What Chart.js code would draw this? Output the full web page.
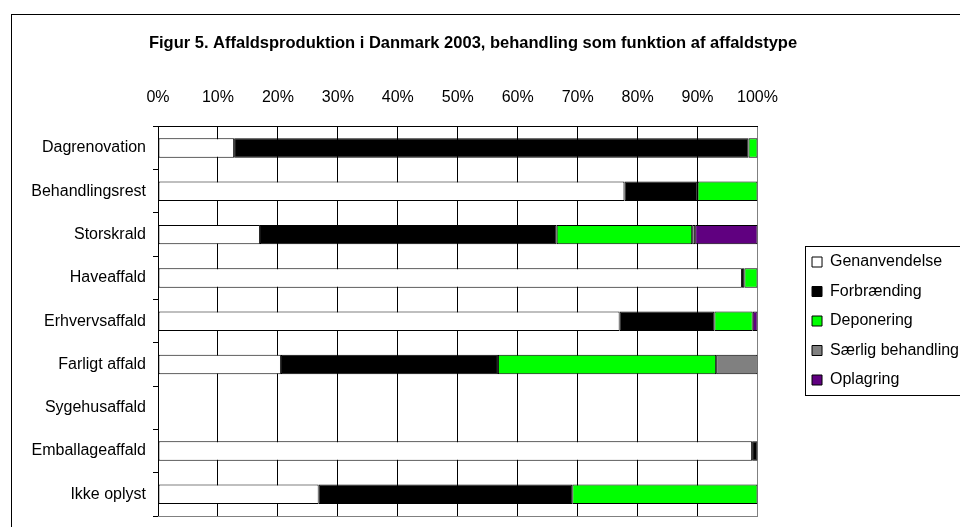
<!DOCTYPE html>
<html>
<head>
<meta charset="utf-8">
<script src="https://cdn.jsdelivr.net/npm/chart.js@4"></script>
<style>
  html, body { margin: 0; padding: 0; background: #fff; overflow: hidden; }
  #wrap { position: absolute; left: 0; top: 0; width: 1000px; height: 545px; }
</style>
</head>
<body>
<div id="wrap"><canvas id="chart" width="1000" height="545"></canvas></div>
<script>
// data (percent of each waste type)
const categories = ["Dagrenovation", "Behandlingsrest", "Storskrald", "Haveaffald", "Erhvervsaffald",
    "Farligt affald", "Sygehusaffald", "Emballageaffald", "Ikke oplyst"];
const genanvendelse = [12.7, 77.8, 17.0, 97.4, 77.0, 20.5, 0, 99.1, 26.8];
const forbraending  = [85.8, 12.2, 49.5, 0.4, 15.8, 36.2, 0, 0.9, 42.3];
const deponering    = [1.5, 10.0, 22.6, 2.2, 6.4, 36.4, 0, 0, 30.9];
const saerlig       = [0, 0, 0.5, 0, 0, 6.9, 0, 0, 0];
const oplagring     = [0, 0, 10.4, 0, 0.8, 0, 0, 0, 0];
const tickValues    = [0, 10, 20, 30, 40, 50, 60, 70, 80, 90, 100];

const FONT = "'Liberation Sans', Arial, sans-serif";
Chart.defaults.font.family = FONT;
Chart.defaults.color = "#000";

function series(label, data, color) {
    return {
        label: label,
        data: data,
        backgroundColor: color,
        borderColor: "#000",
        borderWidth: 1,
        borderSkipped: false,
        barPercentage: 0.45,
        categoryPercentage: 1
    };
}

// legend sits a bit away from the plot, with a frame round it
const legendGap = {
    id: "legendGap",
    beforeInit(chart) {
        const fit = chart.legend.fit;
        chart.legend.fit = function () {
            fit.call(this);
            this.width += 18;
        };
    },
    afterLayout(chart) {
        const lg = chart.legend;
        lg.left += 41;
        lg.right += 41;
        lg.top += 63;
        lg.bottom += 63;
    }
};

const frames = {
    id: "frames",
    beforeDatasetsDraw(chart) {
        const ctx = chart.ctx, a = chart.chartArea;
        ctx.save();
        ctx.strokeStyle = "#808080";
        ctx.lineWidth = 1;
        ctx.beginPath();
        ctx.moveTo(a.left, Math.round(a.bottom) + 0.5);
        ctx.lineTo(a.right + 0.5, Math.round(a.bottom) + 0.5);
        ctx.stroke();
        ctx.restore();
    },
    afterDraw(chart) {
        const ctx = chart.ctx;
        ctx.save();
        ctx.strokeStyle = "#000";
        ctx.lineWidth = 1;
        // outer chart border
        ctx.strokeRect(11.5, 14.5, chart.width, chart.height);
        // legend frame
        const hb = chart.legend.legendHitBoxes;
        if (hb.length) {
            const first = hb[0], last = hb[hb.length - 1];
            const x = Math.round(first.left - 7) + 0.5;
            const y = Math.round(first.top - 8.5) + 0.5;
            const b = Math.round(last.top + last.height + 7) + 0.5;
            ctx.strokeRect(x, y, chart.width, b - y);
        }
        ctx.restore();
    }
};

new Chart(document.getElementById("chart"), {
    type: "bar",
    data: {
        labels: categories,
        datasets: [
            series("Genanvendelse", genanvendelse, "#ffffff"),
            series("Forbrænding", forbraending, "#000000"),
            series("Deponering", deponering, "#00ff00"),
            series("Særlig behandling", saerlig, "#808080"),
            series("Oplagring", oplagring, "#600080")
        ]
    },
    options: {
        indexAxis: "y",
        responsive: false,
        animation: false,
        layout: { padding: { left: 0, right: 54, top: 0, bottom: 29 } },
        scales: {
            x: {
                position: "top",
                stacked: true,
                min: 0,
                max: 100,
                afterBuildTicks: function (axis) {
                    axis.ticks = tickValues.map(v => ({ value: v }));
                },
                ticks: {
                    padding: 19,
                    font: { size: 16 },
                    color: "#000",
                    callback: v => v + "%"
                },
                grid: {
                    drawTicks: false,
                    color: ctx => ctx.tick && ctx.tick.value === 100 ? "#808080" : "#000",
                    lineWidth: 1
                },
                border: { color: "#000" }
            },
            y: {
                stacked: true,
                afterFit: function (axis) { axis.width = 158; },
                ticks: {
                    padding: 7,
                    font: { size: 16 },
                    color: "#000"
                },
                grid: {
                    offset: true,
                    drawOnChartArea: false,
                    drawTicks: true,
                    tickLength: 5,
                    color: "#000"
                },
                border: { color: "#000" }
            }
        },
        plugins: {
            title: {
                display: true,
                text: "Figur 5. Affaldsproduktion i Danmark 2003, behandling som funktion af affaldstype",
                font: { size: 16.5, weight: "bold" },
                color: "#000",
                padding: { top: 34, bottom: 15.4 }
            },
            legend: {
                position: "right",
                align: "center",
                labels: {
                    boxWidth: 10,
                    boxHeight: 10,
                    padding: 13.5,
                    font: { size: 16 },
                    color: "#000"
                }
            },
            tooltip: { enabled: false }
        }
    },
    plugins: [legendGap, frames]
});
</script>
</body>
</html>
